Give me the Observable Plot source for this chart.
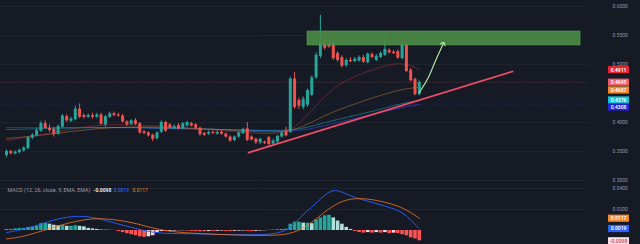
<!DOCTYPE html>
<html><head><meta charset="utf-8">
<script src="https://cdn.jsdelivr.net/npm/d3@7"></script>
<script src="https://cdn.jsdelivr.net/npm/@observablehq/plot@0.6"></script>
<style>
html,body{margin:0;padding:0;background:#161a25;}
#chart{position:relative;width:640px;height:244px;background:#161a25;overflow:hidden;}
#chart svg{position:absolute;left:0;display:block;overflow:visible;}
</style></head><body><div id="chart"></div>
<script>
// ---- price candles (one per period) ----
const candleOpen = [
0.343,0.350,0.346,0.348,0.351,0.355,0.373,0.377,0.385,0.398,
0.390,0.388,0.380,0.392,0.410,0.402,0.405,0.423,0.412,0.409,
0.412,0.409,0.413,0.396,0.409,0.415,0.413,0.411,0.401,0.397,
0.403,0.398,0.384,0.382,0.378,0.372,0.383,0.400,0.396,0.390,
0.395,0.390,0.394,0.398,0.396,0.390,0.381,0.380,0.383,0.380,
0.383,0.380,0.375,0.369,0.375,0.381,0.389,0.375,0.371,0.365,
0.366,0.374,0.363,0.366,0.375,0.385,0.383,0.475,0.438,0.426,
0.430,0.447,0.477,0.514,0.541,0.534,0.536,0.519,0.512,0.498,
0.507,0.505,0.506,0.512,0.503,0.517,0.507,0.512,0.516,0.524,
0.521,0.522,0.510,0.533,0.490,0.474,0.448];
const candleClose = [
0.350,0.346,0.349,0.352,0.356,0.374,0.378,0.386,0.398,0.390,
0.386,0.379,0.393,0.411,0.403,0.406,0.423,0.409,0.409,0.412,
0.409,0.413,0.397,0.410,0.415,0.412,0.411,0.401,0.396,0.403,
0.397,0.382,0.381,0.377,0.371,0.382,0.400,0.385,0.390,0.393,
0.389,0.398,0.400,0.394,0.390,0.379,0.378,0.383,0.381,0.383,
0.380,0.375,0.368,0.375,0.382,0.388,0.369,0.370,0.365,0.371,
0.364,0.362,0.368,0.376,0.382,0.377,0.475,0.426,0.428,0.440,
0.455,0.477,0.516,0.536,0.528,0.530,0.510,0.507,0.497,0.507,
0.505,0.509,0.512,0.504,0.518,0.512,0.514,0.519,0.526,0.520,
0.519,0.511,0.533,0.488,0.472,0.448,0.469];
const candleHigh = [
0.353,0.352,0.351,0.354,0.358,0.376,0.381,0.389,0.402,0.403,
0.396,0.392,0.396,0.414,0.413,0.409,0.428,0.432,0.415,0.415,
0.416,0.416,0.416,0.412,0.418,0.418,0.416,0.414,0.403,0.405,
0.407,0.400,0.386,0.384,0.380,0.384,0.403,0.402,0.398,0.396,
0.398,0.400,0.402,0.400,0.398,0.392,0.383,0.385,0.385,0.385,
0.386,0.382,0.377,0.377,0.384,0.390,0.400,0.377,0.373,0.373,
0.368,0.376,0.371,0.378,0.384,0.392,0.478,0.486,0.442,0.444,
0.458,0.480,0.520,0.585,0.545,0.540,0.540,0.522,0.515,0.510,
0.512,0.512,0.515,0.516,0.520,0.520,0.517,0.522,0.547,0.527,
0.524,0.525,0.536,0.538,0.493,0.477,0.472];
const candleLow = [
0.340,0.344,0.344,0.346,0.349,0.353,0.370,0.375,0.383,0.388,
0.383,0.375,0.378,0.390,0.400,0.400,0.403,0.407,0.406,0.407,
0.406,0.407,0.395,0.392,0.407,0.410,0.409,0.399,0.393,0.395,
0.395,0.380,0.379,0.375,0.367,0.370,0.381,0.383,0.388,0.388,
0.387,0.388,0.392,0.392,0.388,0.376,0.376,0.378,0.379,0.378,
0.378,0.373,0.366,0.367,0.373,0.379,0.367,0.368,0.362,0.362,
0.362,0.359,0.361,0.364,0.373,0.375,0.381,0.423,0.423,0.422,
0.426,0.445,0.474,0.510,0.525,0.528,0.507,0.504,0.494,0.495,
0.503,0.503,0.504,0.502,0.501,0.510,0.505,0.510,0.514,0.518,
0.517,0.509,0.508,0.486,0.470,0.446,0.446];

// ---- moving averages (read at sampled periods) ----
const maIndex  = [0,10,20,30,40,50,60,66,70,74,78,82,86,90,93,96];
const maRed    = [0.369,0.381,0.3966,0.3966,0.3914,0.3862,0.3793,0.3828,0.4121,0.4466,0.469,0.4828,0.4931,0.5017,0.5017,0.4911];
const maOrange = [0.3724,0.3793,0.3896,0.3931,0.3914,0.3879,0.3828,0.3845,0.3966,0.4121,0.4241,0.4345,0.4448,0.4534,0.4586,0.4607];
const maCyan   = [0.3879,0.3896,0.3914,0.3914,0.3896,0.3879,0.3862,0.3862,0.3914,0.4,0.4069,0.4138,0.4207,0.4293,0.4345,0.4376];
const maBlue   = [0.3914,0.3914,0.3914,0.3914,0.3896,0.3879,0.3862,0.3845,0.3879,0.3948,0.4017,0.4086,0.4155,0.4224,0.4276,0.4308];

// ---- drawings ----
const zoneX = [70, 133.5];
const zoneY = [0.5328, 0.5569];
const trendX = [56.3, 117.7];
const trendY = [0.348, 0.488];
const arrowX = [96.0, 98.1, 99.8, 101.6];
const arrowY = [0.4517, 0.4776, 0.5069, 0.5362];

// ---- axis / tags ----
const priceTicks = [0.30, 0.35, 0.40, 0.50, 0.55, 0.60];
const tagValues = [0.4911, 0.4695, 0.4607, 0.4376, 0.4308];
const tagColors = ["#e3282f", "#ef5d6c", "#f38a2a", "#17c3d6", "#2323d8"];
const currentPrice = 0.4695;

// ---- MACD ----
const macdTicks = [0.02, 0.04];
const histValues = [
0.001,0.001,0.0015,0.002,0.002,
0.003,0.003,0.004,0.0065,0.0067,
0.006,0.005,0.0045,0.005,0.004,
0.004,0.0045,0.004,0.0035,0.002,
0.0015,0.001,0.0005,0.0003,0.0002,
0.0001,-0.001,-0.002,-0.003,-0.004,
-0.005,-0.006,-0.0065,-0.006,-0.005,
-0.002,-0.001,-0.001,-0.0008,-0.0005,
-0.0005,-0.0003,-0.0005,-0.0008,-0.001,
-0.0012,-0.0012,-0.001,-0.001,-0.0008,
-0.0006,-0.0008,-0.001,-0.0008,-0.0006,
-0.0005,-0.0008,-0.001,-0.0008,-0.0005,
-0.0003,0.0003,0.0005,0.0008,0.001,
0.0012,0.006,0.008,0.008,0.007,
0.007,0.0065,0.010,0.012,0.014,
0.0145,0.012,0.009,0.006,0.003,
0.001,-0.001,-0.002,-0.0025,-0.002,
-0.0025,-0.002,-0.0025,-0.002,-0.003,
-0.0025,-0.003,-0.004,-0.005,-0.007,
-0.008,-0.0098];
const macdIndex = [0,5,10,14,18,22,26,30,34,38,44,50,56,62,66,68,71,74,76,78,81,85,89,92,94,96];
const macdLine  = [-0.002,0.002,0.009,0.013,0.014,0.011,0.006,0.002,-0.002,-0.003,-0.003,-0.004,-0.004,-0.004,0.001,0.012,0.022,0.034,0.039,0.037,0.031,0.027,0.022,0.018,0.010,0.0019];
const signalIndex = [0,4,10,16,21,26,30,35,40,50,60,66,70,74,78,82,86,90,93,96];
const signalLine  = [-0.008,-0.006,0.002,0.009,0.012,0.010,0.007,0.001,-0.002,-0.004,-0.005,-0.004,0.004,0.018,0.029,0.031,0.029,0.025,0.020,0.0117];
const macdTagValues = [0.0117, 0.0019, -0.0098];
const macdTagFill = ["#f38a2a", "#2962ff", "#fde2e5"];
const macdTagText = ["#ffffff", "#ffffff", "#d24a5a"];
const legendParts = ["MACD (12, 26, close, 9, EMA, EMA)", "-0.0098", "0.0019", "0.0117"];
const legendColors = ["#9a9da6", "#e9e9ec", "#3b6cff", "#e08a2c"];

// ---------- build ----------
const UP = "#26a69a", DOWN = "#ef5350";
const candles = candleOpen.map((o, i) => ({i, o, c: candleClose[i], h: candleHigh[i], l: candleLow[i]}));
const ma = maIndex.map((i, k) => ({i, red: maRed[k], orange: maOrange[k], cyan: maCyan[k], blue: maBlue[k]}));
const zone = [{x1: zoneX[0], x2: zoneX[1], y1: zoneY[0], y2: zoneY[1]}];
const trend = trendX.map((x, k) => ({x, y: trendY[k]}));
const arrow = arrowX.map((x, k) => ({x, y: arrowY[k]}));
const hist = histValues.map((v, i) => {
  const p = i > 0 ? histValues[i - 1] : 0;
  const color = v >= 0 ? (v >= p ? "#26a69a" : "#b2dfdb") : (v <= p ? "#ff5252" : "#ffcdd2");
  return {i, v, color};
});
const macd = macdIndex.map((i, k) => ({i, v: macdLine[k]}));
const signal = signalIndex.map((i, k) => ({i, v: signalLine[k]}));

const xDomain = [-1.395, 135.35];
const FONT = "Roboto, 'Noto Sans', sans-serif";
const tagSymbol = {draw(ctx) { ctx.rect(-10.5, -3.6, 21, 7.2); }};

function tagMarks(values, fills, texts, dys) {
  const marks = [];
  values.forEach((v, k) => {
    marks.push(Plot.dot([v], {y: d => d, frameAnchor: "right", dx: 30, dy: dys[k], symbol: tagSymbol, fill: fills[k], stroke: "none"}));
    marks.push(Plot.text([v], {y: d => d, frameAnchor: "right", dx: 30, dy: dys[k] + 0.3, text: d => d.toFixed(4), fill: texts[k], fontSize: 5, fontWeight: 600, textAnchor: "middle"}));
  });
  return marks;
}

const pricePlot = Plot.plot({
  width: 640, height: 182,
  marginLeft: 0, marginRight: 52, marginTop: 0, marginBottom: 0,
  style: {background: "transparent", color: "#9598a1", fontFamily: FONT, fontSize: "5px", overflow: "visible"},
  color: {type: "identity"},
  x: {domain: xDomain, axis: null},
  y: {domain: [0.29655, 0.61034], axis: "right", ticks: priceTicks, tickSize: 0, tickPadding: 24, tickFormat: d => d.toFixed(4), label: null},
  marks: [
    Plot.ruleY(priceTicks, {stroke: "#20242f"}),
    Plot.ruleY([currentPrice], {stroke: "#e0606e", strokeOpacity: 0.32, strokeDasharray: "1.5,1.5"}),
    Plot.ruleY([maBlue[maBlue.length - 1]], {stroke: "#2b3bd0", strokeOpacity: 0.25, strokeDasharray: "1.5,1.5"}),
    Plot.line(ma, {x: "i", y: "blue", stroke: "#3346d6", strokeOpacity: 0.75, strokeWidth: 0.9, curve: "basis"}),
    Plot.line(ma, {x: "i", y: "cyan", stroke: "#1bb3c6", strokeOpacity: 0.55, strokeWidth: 0.9, curve: "basis"}),
    Plot.line(ma, {x: "i", y: "orange", stroke: "#d08a3a", strokeOpacity: 0.5, strokeWidth: 0.9, curve: "basis"}),
    Plot.line(ma, {x: "i", y: "red", stroke: "#c8323e", strokeOpacity: 0.5, strokeWidth: 0.9, curve: "basis"}),
    Plot.ruleX(candles, {x: "i", y1: "l", y2: "h", stroke: d => d.c >= d.o ? UP : DOWN, strokeWidth: 1}),
    Plot.ruleX(candles, {x: "i", y1: "o", y2: "c", stroke: d => d.c >= d.o ? UP : DOWN, strokeWidth: 3}),
    Plot.rect(zone, {x1: "x1", x2: "x2", y1: "y1", y2: "y2", fill: "#4a8a46", fillOpacity: 0.93, stroke: "#5c9c57", strokeWidth: 0.6}),
    Plot.line(trend, {x: "x", y: "y", stroke: "#ef4d69", strokeWidth: 1.7}),
    Plot.line(arrow, {x: "x", y: "y", stroke: "#a8e6a1", strokeWidth: 1.2, curve: "catmull-rom", markerEnd: "arrow"}),
    ...tagMarks(tagValues, tagColors, ["#fff", "#fff", "#fff", "#fff", "#fff"], [0, 0, 2.7, -0.7, 2.4])
  ]
});

const legendDx = [7, 93, 113, 132];
const legendSize = [5.4, 5, 5, 5];
const macdPlot = Plot.plot({
  width: 640, height: 62,
  marginLeft: 0, marginRight: 52, marginTop: 0, marginBottom: 0,
  style: {background: "transparent", color: "#9598a1", fontFamily: FONT, fontSize: "5px", overflow: "visible"},
  color: {type: "identity"},
  x: {domain: xDomain, axis: null},
  y: {domain: [-0.01333, 0.0457], axis: "right", ticks: macdTicks, tickSize: 0, tickPadding: 24, tickFormat: d => d.toFixed(4), label: null},
  marks: [
    Plot.ruleY(macdTicks, {stroke: "#20242f"}),
    Plot.ruleX(hist, {x: "i", y1: 0, y2: "v", stroke: "color", strokeWidth: 3.6}),
    Plot.line(macd, {x: "i", y: "v", stroke: "#2962ff", strokeWidth: 0.9, curve: "basis"}),
    Plot.line(signal, {x: "i", y: "v", stroke: "#ff7a1a", strokeWidth: 0.9, strokeOpacity: 0.85, curve: "basis"}),
    ...legendParts.map((t, k) => Plot.text([t], {text: d => d, frameAnchor: "top-left", dx: legendDx[k], dy: 5.5, lineAnchor: "top", textAnchor: "start", fill: legendColors[k], fontSize: legendSize[k], fontWeight: k === 1 ? 700 : 400})),
    ...tagMarks(macdTagValues, macdTagFill, macdTagText, [0, 0, 0])
  ]
});

pricePlot.style.top = "0px";
macdPlot.style.top = "182px";
const root = document.getElementById("chart");
root.appendChild(pricePlot);
root.appendChild(macdPlot);
</script>
</body></html>
